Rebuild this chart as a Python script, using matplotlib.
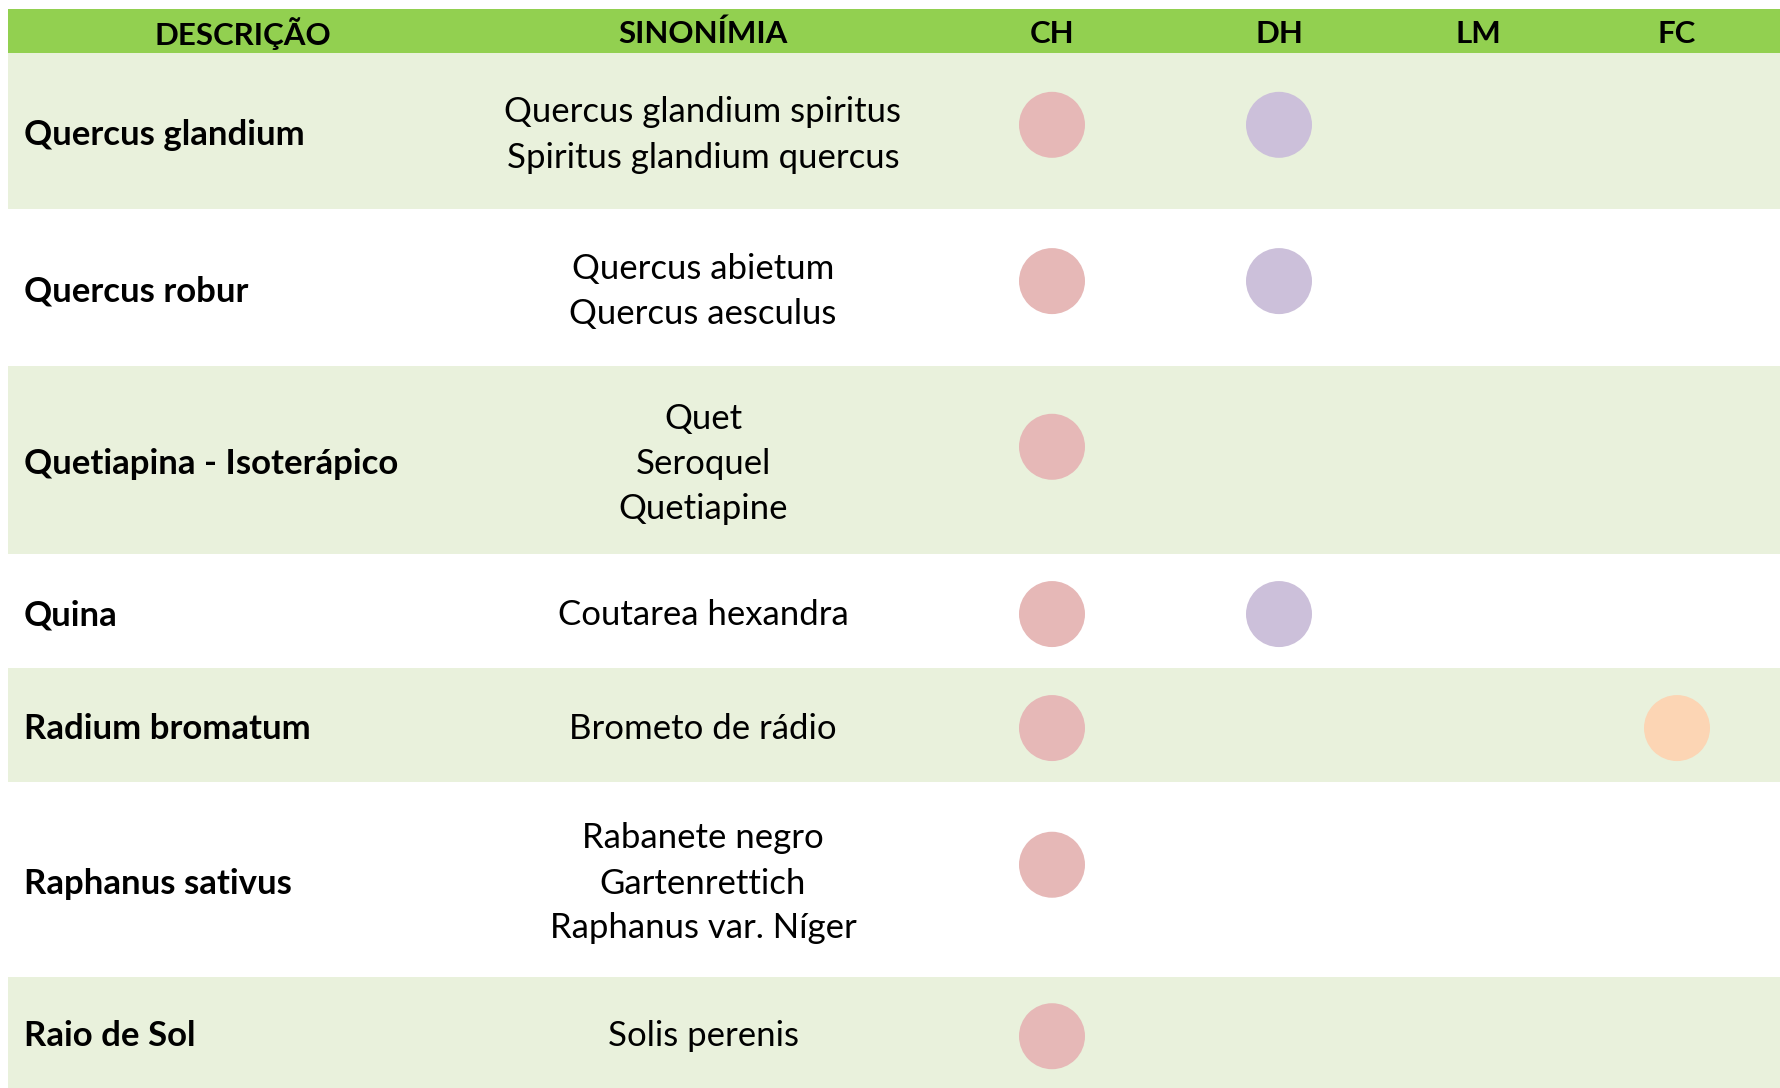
import matplotlib.pyplot as plt
from matplotlib.patches import Rectangle, Circle

plt.rcParams['font.family'] = ['Lato', 'DejaVu Sans']

headers = ['DESCRIÇÃO', 'SINONÍMIA', 'CH', 'DH', 'LM', 'FC']
descricao = ['Quercus glandium', 'Quercus robur', 'Quetiapina - Isoterápico',
             'Quina', 'Radium bromatum', 'Raphanus sativus', 'Raio de Sol']
sinonimia = [['Quercus glandium spiritus', 'Spiritus glandium quercus'],
             ['Quercus abietum', 'Quercus aesculus'],
             ['Quet', 'Seroquel', 'Quetiapine'],
             ['Coutarea hexandra'],
             ['Brometo de rádio'],
             ['Rabanete negro', 'Gartenrettich', 'Raphanus var. Níger'],
             ['Solis perenis']]
ch = [1, 1, 1, 1, 1, 1, 1]
dh = [1, 1, 0, 1, 0, 0, 0]
lm = [0, 0, 0, 0, 0, 0, 0]
fc = [0, 0, 0, 0, 1, 0, 0]

# layout (pixels)
W, H = 1780, 1088
left = 8
row_edges = [9, 53, 209, 366, 554, 668, 782, 977, 1088]
head_x = [243, 703, 1052, 1279, 1478, 1677]
desc_x = 24
line_h = 45
radius = 33
txt_dy = 4
green = '#92D050'
band = '#E9F1DC'
dot_colors = ['#E6B8B7', '#CCC0DA', '#CCC0DA', '#FCD5B4']

fig = plt.figure(figsize=(W / 100, H / 100), dpi=100)
ax = fig.add_axes([0, 0, 1, 1])
ax.set_xlim(0, W)
ax.set_ylim(H, 0)
ax.axis('off')

# header
ax.add_patch(Rectangle((left, row_edges[0]), W - left, row_edges[1] - row_edges[0],
                       color=green, lw=0))
hy = (row_edges[0] + row_edges[1]) / 2 + 3
for x, h in zip(head_x, headers):
    ax.text(x, hy, h, ha='center', va='center', fontsize=22.5, fontweight='bold')

marks = [ch, dh, lm, fc]
for i, name in enumerate(descricao):
    top, bot = row_edges[i + 1], row_edges[i + 2]
    hgt = bot - top
    cy = (top + bot) / 2
    if i % 2 == 0:
        ax.add_patch(Rectangle((left, top), W - left, hgt, color=band, lw=0))
    ax.text(desc_x, cy + txt_dy, name, ha='left', va='center', fontsize=25,
            fontweight='bold')
    lines = sinonimia[i]
    n = len(lines)
    for k, s in enumerate(lines):
        ax.text(head_x[1], cy + txt_dy + (k - (n - 1) / 2) * line_h, s,
                ha='center', va='center', fontsize=25)
    dot_y = cy + 3.5 - 0.22 * (hgt - 112)
    for j, col in enumerate(marks):
        if col[i]:
            ax.add_patch(Circle((head_x[2 + j], dot_y), radius,
                                color=dot_colors[j], lw=0))

fig.savefig('out.png', dpi=100)
